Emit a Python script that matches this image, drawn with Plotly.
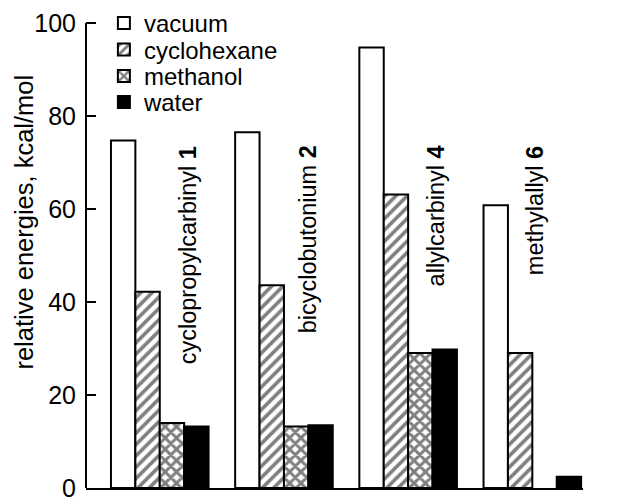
import plotly.graph_objects as go

categories = ["cyclopropylcarbinyl <b>1</b>", "bicyclobutonium <b>2</b>",
              "allylcarbinyl <b>4</b>", "methylallyl <b>6</b>"]
series_names = ["vacuum", "cyclohexane", "methanol", "water"]
vacuum = [74.7, 76.5, 94.7, 60.8]
cyclohexane = [42.2, 43.6, 63.1, 29.0]
methanol = [14.0, 13.2, 29.0, None]
water = [13.2, 13.5, 29.8, 2.4]
y_ticks = [0, 20, 40, 60, 80, 100]
y_title = "relative energies, kcal/mol"

FONT = "Liberation Sans, Arial, Helvetica, sans-serif"
xpos = list(range(len(categories)))

hatch = dict(shape="/", size=8, solidity=0.45, fgcolor="black", bgcolor="white", fillmode="overlay")
cross = dict(shape="x", size=8, solidity=0.6, fgcolor="black", bgcolor="white", fillmode="overlay")
styles = {
    "vacuum": ("white", None),
    "cyclohexane": ("white", hatch),
    "methanol": ("white", cross),
    "water": ("black", None),
}

legend_ids = ["legend", "legend2", "legend3", "legend4"]
legend_y = [0.9677, 0.9125, 0.8573, 0.8031]

fig = go.Figure()
for name, vals, lid in zip(series_names, [vacuum, cyclohexane, methanol, water], legend_ids):
    color, pat = styles[name]
    marker = dict(color=color, line=dict(color="black", width=2))
    if pat:
        marker["pattern"] = pat
    fig.add_trace(go.Bar(x=xpos, y=vals, name=name, marker=marker, legend=lid))

legend_common = dict(x=0.036, xanchor="left", yanchor="middle",
                     font=dict(family=FONT, size=24, color="black"),
                     bgcolor="rgba(0,0,0,0)", borderwidth=0)
legend_layout = {lid: dict(y=ly, **legend_common) for lid, ly in zip(legend_ids, legend_y)}

label_dx = [0.223, 0.19, 0.225, 0.02]
for i, (cat, dx) in enumerate(zip(categories, label_dx)):
    fig.add_annotation(x=xpos[i] + dx, y=74.0, text=cat, textangle=-90,
                       showarrow=False, xanchor="center", yanchor="top",
                       font=dict(family=FONT, size=23.5, color="black"))

# y-axis title
fig.add_annotation(xref="paper", yref="paper", x=-0.1247, y=0.553, text=y_title,
                   textangle=-90, showarrow=False, xanchor="center", yanchor="middle",
                   font=dict(family=FONT, size=25.5, color="black"))

# y-axis line from 0 to 100 only
fig.add_shape(type="line", xref="paper", yref="y", x0=0, x1=0, y0=y_ticks[0], y1=y_ticks[-1],
              line=dict(color="black", width=2), layer="above")

fig.update_layout(
    width=626, height=500,
    margin=dict(l=86, r=43, t=8, b=12, autoexpand=False),
    paper_bgcolor="white", plot_bgcolor="white",
    barmode="group", bargap=0.214, bargroupgap=0,
    font=dict(family=FONT, color="black"),
    showlegend=True,
    xaxis=dict(range=[-0.594, 3.408], showticklabels=False, ticks="",
               showline=True, linecolor="black", linewidth=2, showgrid=False,
               zeroline=False, automargin=False),
    yaxis=dict(range=[0, 103.2], tickvals=y_ticks, ticks="inside", ticklen=10,
               tickwidth=2, tickcolor="black", showline=False, showgrid=False,
               zeroline=False, automargin=False, ticklabelstandoff=9,
               ticklabeloverflow="allow",
               tickfont=dict(family=FONT, size=25, color="black")),
    **legend_layout,
)

fig.write_html("out.html", config={"displayModeBar": False},
               post_script="document.body.style.margin='0px';document.body.style.padding='0px';")
